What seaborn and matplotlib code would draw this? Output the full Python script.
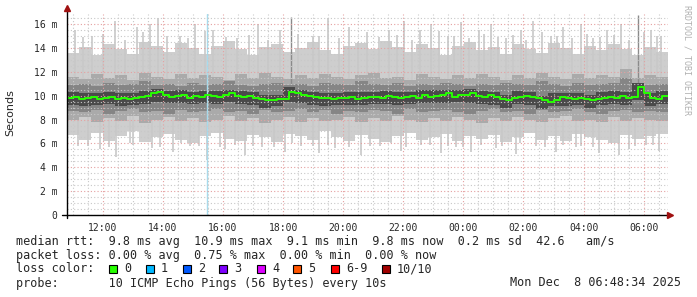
import numpy as np
import pandas as pd
import matplotlib
matplotlib.use("Agg")
import matplotlib.pyplot as plt
import seaborn as sns
from matplotlib.patches import Rectangle
from matplotlib.ticker import FixedLocator, MultipleLocator, FuncFormatter

# ---------------- data (ms, clock hours; >24 = next day) ----------------
t_start = 10.8094   # 10:48:34
t_end = 30.8094     # 06:48:34 next day

median_ms = [9.8, 9.9, 9.7, 9.8, 9.9, 9.7,
             9.8, 9.9, 9.7, 9.8, 9.7,
             9.8, 9.9, 10.0, 10.2, 10.3,
             10.1, 9.9, 10.0, 10.1, 9.8,
             10.0, 9.9, 10.1, 10.0, 9.9,
             10.1, 10.2, 10.0, 9.9, 10.0,
             9.8, 9.7, 9.6, 9.6, 9.7,
             9.7, 10.3, 10.2, 10.1, 10.0,
             9.9, 9.8, 9.8, 9.7, 9.8,
             9.8, 9.9, 9.7, 9.8, 9.9,
             9.9, 9.8, 10.0, 9.9, 9.8,
             9.9, 10.0, 9.8, 10.1, 9.9,
             10.0, 10.1, 10.2, 9.9, 10.1,
             10.1, 10.2, 10.0, 9.9, 10.1,
             9.9, 9.7, 9.6, 9.8, 9.9,
             10.0, 9.9, 9.8, 9.6, 9.5,
             9.6, 9.9, 9.8, 9.7, 9.8,
             9.7, 9.6, 9.7, 9.8, 9.9,
             9.8, 10.0, 9.8, 9.9, 10.7,
             10.2, 9.8, 9.7, 10.0]

outer_hi = [13.6, 14.1, 13.4, 14.3, 13.9, 13.5, 14.5, 14.2, 13.7, 14.4,
            14.0, 13.5, 14.2, 14.6, 13.9, 13.4, 14.1, 14.3, 13.7, 14.0,
            14.5, 13.8, 13.5, 14.2, 14.4, 13.9, 14.6, 14.1, 13.7, 14.3,
            14.0, 13.4, 14.2, 14.5, 13.8, 14.1, 13.5, 14.3, 13.9, 13.6,
            14.4, 14.0, 13.5, 14.2, 13.8, 14.3, 13.9, 13.4, 14.1, 13.7]
outer_lo = [6.7, 6.3, 6.9, 6.2, 6.6, 7.0, 6.1, 6.5, 6.8, 6.3,
            6.0, 6.6, 6.9, 6.4, 6.2, 6.7, 6.5, 6.1, 6.8, 6.6,
            6.3, 7.0, 6.5, 6.2, 6.7, 6.4, 6.1, 6.6, 6.9, 6.3,
            6.5, 6.8, 6.2, 6.6, 6.4, 6.7, 6.1, 6.5, 6.9, 6.3,
            6.6, 6.2, 6.8, 6.5, 6.3, 6.0, 6.7, 6.4, 6.6, 6.8]
mid_hi = [11.6, 11.4, 11.8, 11.5, 11.7, 11.3, 11.9, 11.6, 11.4, 11.8,
          11.5, 11.7, 11.6, 11.3, 11.8, 11.5, 11.9, 11.6, 11.4, 11.7,
          11.5, 11.8, 11.6, 11.4, 11.7, 11.9, 11.5, 11.6, 11.3, 11.8,
          11.6, 11.4, 11.7, 11.5, 11.8, 11.6, 11.3, 11.7, 11.5, 11.9,
          11.6, 11.4, 11.8, 11.5, 11.7, 11.6, 12.2, 11.5, 11.7, 11.6]
mid_lo = [8.0, 8.2, 7.8, 8.1, 7.9, 8.3, 7.7, 8.0, 8.2, 7.9,
          8.1, 7.8, 8.0, 8.3, 7.9, 8.1, 7.7, 8.0, 8.2, 7.8,
          8.1, 7.9, 8.0, 8.2, 7.8, 8.1, 7.9, 8.3, 8.0, 7.8,
          8.1, 7.9, 8.2, 8.0, 7.7, 8.1, 7.9, 8.2, 8.0, 7.8,
          8.1, 8.3, 7.9, 8.0, 7.8, 8.2, 7.9, 8.1, 8.0, 7.9]
inner_hi = [10.9, 11.0, 10.8, 11.1, 10.9, 11.0, 11.2, 10.9, 11.0, 10.8,
            11.1, 10.9, 11.0, 11.2, 10.9, 10.8, 11.0, 11.1, 10.9, 11.0,
            10.8, 11.1, 11.0, 10.9, 11.2, 11.0, 10.9, 11.1, 10.8, 11.0,
            10.9, 11.1, 11.0, 10.8, 11.0, 10.9, 11.1, 11.0, 10.9, 11.2,
            11.0, 10.8, 11.1, 10.9, 11.0, 11.1, 11.5, 11.0, 10.9, 11.0]
inner_lo = [8.7, 8.6, 8.8, 8.5, 8.7, 8.9, 8.6, 8.7, 8.5, 8.8,
            8.6, 8.7, 8.9, 8.6, 8.7, 8.5, 8.8, 8.6, 8.7, 8.9,
            8.6, 8.8, 8.5, 8.7, 8.6, 8.8, 8.7, 8.5, 8.9, 8.6,
            8.7, 8.8, 8.6, 8.5, 8.7, 8.9, 8.6, 8.7, 8.5, 8.8,
            8.6, 8.7, 8.9, 8.6, 8.5, 8.7, 8.8, 8.6, 8.7, 8.6]
core_hi = [10.3, 10.2, 10.2, 10.3, 10.2, 10.2, 10.4, 10.6, 10.4, 10.5,
           10.3, 10.4, 10.4, 10.5, 10.4, 10.3, 10.1, 10.1, 10.7, 10.5,
           10.3, 10.2, 10.2, 10.3, 10.3, 10.3, 10.4, 10.3, 10.3, 10.5,
           10.5, 10.5, 10.5, 10.6, 10.4, 10.3, 10.1, 10.4, 10.3, 10.0,
           10.2, 10.2, 10.2, 10.1, 10.3, 10.4, 10.3, 11.1, 10.2, 10.4]
core_lo = [9.2, 9.1, 9.2, 9.3, 9.1, 9.2, 9.3, 9.5, 9.4, 9.4,
           9.3, 9.4, 9.3, 9.5, 9.3, 9.2, 9.0, 9.1, 9.5, 9.4,
           9.2, 9.1, 9.2, 9.2, 9.2, 9.3, 9.3, 9.2, 9.3, 9.4,
           9.4, 9.4, 9.5, 9.4, 9.3, 9.2, 9.0, 9.3, 9.2, 8.9,
           9.1, 9.1, 9.2, 9.0, 9.2, 9.3, 9.2, 9.6, 9.1, 9.3]

spike_up_t = [11.08, 11.64, 12.41, 13.14, 13.58, 13.84, 14.58, 15.08, 15.68, 16.48,
              17.18, 17.91, 18.98, 19.48, 20.18, 20.48, 21.54, 22.01, 22.54, 22.91,
              23.48, 23.91, 24.51, 24.91, 25.41, 25.91, 26.31, 26.91, 27.31, 27.91,
              28.31, 28.78, 29.24, 30.24, 30.58,
              11.35, 12.00, 12.75, 13.35, 14.15, 14.85, 15.40, 16.10, 16.85, 17.50,
              18.50, 19.20, 19.85, 20.80, 21.20, 21.80, 22.30, 23.20, 23.70, 24.20,
              24.70, 25.15, 25.65, 26.10, 26.60, 27.10, 27.60, 28.10, 28.55, 29.00,
              29.50, 30.00, 30.45]
spike_up_top = [15.5, 15.0, 16.3, 15.8, 16.0, 16.5, 15.0, 16.0, 15.5, 14.8,
                16.0, 15.5, 15.0, 16.5, 15.8, 14.5, 15.5, 16.3, 15.5, 16.0,
                15.0, 16.2, 15.5, 16.0, 14.8, 15.5, 16.3, 15.0, 15.8, 16.0,
                14.8, 15.5, 16.0, 15.5, 15.0,
                14.9, 15.2, 14.7, 15.3, 15.0, 14.8, 15.4, 14.9, 15.1, 14.7,
                15.2, 15.0, 14.8, 15.3, 14.9, 15.1, 14.7, 15.4, 15.0, 14.8,
                15.2, 14.9, 15.1, 14.7, 15.3, 15.0, 14.8, 15.2, 14.9, 15.1,
                14.7, 15.3, 15.0]
spike_dn_t = [11.18, 11.91, 12.44, 12.91, 13.64, 14.34, 14.91, 15.48, 16.08, 16.74,
              17.31, 18.08, 18.58, 19.18, 19.74, 20.58, 21.24, 21.91, 22.58, 23.24,
              23.74, 24.24, 25.08, 25.74, 26.41, 27.08, 27.74, 28.51, 29.18, 29.51,
              30.08, 30.51,
              11.50, 12.20, 13.00, 13.90, 14.60, 15.20, 15.90, 16.40, 17.00, 17.70,
              18.30, 19.00, 19.50, 20.20, 20.90, 21.60, 22.10, 22.90, 23.50, 24.00,
              24.60, 25.30, 25.90, 26.70, 27.30, 27.90, 28.30, 28.90, 29.70, 30.30]
spike_dn_bot = [5.8, 5.5, 4.9, 6.0, 5.6, 5.3, 5.8, 4.6, 5.5, 5.0,
                5.7, 5.3, 5.8, 5.2, 5.6, 5.0, 5.8, 5.4, 5.9, 5.2,
                5.7, 5.3, 5.6, 5.1, 5.8, 5.3, 5.7, 5.2, 5.0, 5.5,
                5.9, 5.4,
                5.8, 5.7, 5.9, 5.7, 6.0, 5.8, 5.7, 5.9, 5.8, 5.7,
                6.0, 5.8, 5.9, 5.7, 5.8, 6.0, 5.7, 5.9, 5.8, 5.7,
                5.9, 5.8, 6.0, 5.7, 5.9, 5.8, 5.7, 6.0, 5.8, 5.9]
dark_spike_t = [18.28, 29.80]
dark_spike_top = [16.6, 16.8]
loss_rule_t = 15.48

x_tick_hours = [12, 14, 16, 18, 20, 22, 24, 26, 28, 30]
y_tick_ms = [0, 2, 4, 6, 8, 10, 12, 14, 16]

legend_lines = [
    "median rtt:  9.8 ms avg  10.9 ms max  9.1 ms min  9.8 ms now  0.2 ms sd  42.6   am/s",
    "packet loss: 0.00 % avg  0.75 % max  0.00 % min  0.00 % now",
]
loss_labels = ["0", "1", "2", "3", "4", "5", "6-9", "10/10"]
loss_colors = ["#26ff00", "#00b8ff", "#0059ff", "#7e00ff", "#dd00ff", "#ff5500", "#ff0000", "#a10000"]
probe_text = "probe:       10 ICMP Echo Pings (56 Bytes) every 10s"
date_text = "Mon Dec  8 06:48:34 2025"

# ---------------- figure ----------------
sns.set_style("white")
plt.rcParams["font.family"] = ["DejaVu Sans Mono", "DejaVu Sans"]

W, H = 697, 297
fig = plt.figure(figsize=(W / 100, H / 100), dpi=100)
fig.patch.set_facecolor("white")
L, R, T, B = 67, 668, 14, 215
ax = fig.add_axes([L / W, 1 - B / H, (R - L) / W, (B - T) / H])
ax.set_facecolor("white")
ymax = (B - T) / 11.93
ax.set_xlim(t_start, t_end)
ax.set_ylim(0, ymax)


def band(lo, hi, color, z):
    n = len(lo)
    edges = np.linspace(t_start, t_end, n + 1)
    ax.fill_between(edges, np.append(lo, lo[-1]), np.append(hi, hi[-1]),
                    step="post", color=color, lw=0, zorder=z)


band(outer_lo, outer_hi, "#cecece", 1.0)
ax.vlines(spike_up_t, 10, spike_up_top, color="#c8c8c8", lw=1.2, zorder=1.1)
ax.vlines(spike_dn_t, spike_dn_bot, 10, color="#c8c8c8", lw=1.2, zorder=1.1)
band(mid_lo, mid_hi, "#aaaaaa", 1.2)
ax.vlines(dark_spike_t, 10, dark_spike_top, color="#8a8a8a", lw=1.0, zorder=1.25)
band(inner_lo, inner_hi, "#858585", 1.3)
band(core_lo, core_hi, "#4a4a4a", 1.4)
ax.axvline(loss_rule_t, color="#a6dcef", lw=1.0, zorder=1.5)

med_edges = np.linspace(t_start, t_end, len(median_ms) + 1)
df = pd.DataFrame({"t": med_edges, "ms": np.append(median_ms, median_ms[-1])})
sns.lineplot(data=df, x="t", y="ms", drawstyle="steps-post", color="#26ff00",
             lw=1.4, ax=ax, zorder=3.1)
ax.set_xlabel("")
ax.set_ylabel("")

# grid
ax.xaxis.set_major_locator(FixedLocator(x_tick_hours))
ax.xaxis.set_minor_locator(MultipleLocator(0.5))
ax.yaxis.set_major_locator(FixedLocator(y_tick_ms))
ax.yaxis.set_minor_locator(MultipleLocator(0.5))
ax.set_axisbelow(False)
ax.grid(which="major", color="#e5a0a0", ls=(0, (1, 2)), lw=0.8, zorder=2.5)
ax.grid(which="minor", color="#c8c8c8", ls=(0, (1, 2)), lw=0.8, zorder=2.5)
ax.xaxis.set_major_formatter(FuncFormatter(lambda v, p: f"{int(round(v)) % 24:02d}:00"))
ax.yaxis.set_major_formatter(FuncFormatter(lambda v, p: "0" if v == 0 else f"{v:g} m"))
ax.tick_params(axis="both", which="major", labelsize=7, length=3, width=0.8,
               color="black", direction="out")
ax.tick_params(axis="x", which="major", pad=3)
ax.tick_params(axis="y", which="major", pad=4)
ax.tick_params(axis="both", which="minor", length=0)
for s in ax.spines.values():
    s.set_visible(False)

# axes lines with arrows
ax.plot([0, 0], [-0.015, 1.02], transform=ax.transAxes, color="black", lw=1.0,
        clip_on=False, zorder=4)
ax.plot([-0.008, 1.0], [0, 0], transform=ax.transAxes, color="black", lw=1.0,
        clip_on=False, zorder=4)
ax.plot([0], [1.03], marker="^", ms=5, color="#a01010", transform=ax.transAxes,
        clip_on=False, zorder=5)
ax.plot([1.004], [0], marker=">", ms=5, color="#a01010", transform=ax.transAxes,
        clip_on=False, zorder=5)

# texts
fig.text(10 / W, 1 - 113 / H, "Seconds", rotation=90, ha="center", va="center",
         fontsize=8, family=["DejaVu Sans"])
fig.text(687 / W, 1 - 5 / H, "RRDTOOL / TOBI OETIKER", rotation=270, ha="center",
         va="top", fontsize=6, color="#b0b0b0")

fs = 8.5
fig.text(16 / W, 1 - 241.5 / H, legend_lines[0], ha="left", va="center", fontsize=fs)
fig.text(16 / W, 1 - 255.5 / H, legend_lines[1], ha="left", va="center", fontsize=fs)
fig.text(16 / W, 1 - 269 / H, "loss color:", ha="left", va="center", fontsize=fs)
box_x = [109, 146, 183, 219, 257, 293, 331, 382]
for bx, lab, col in zip(box_x, loss_labels, loss_colors):
    fig.add_artist(Rectangle((bx / W, 1 - 273 / H), 8 / W, 8 / H,
                             transform=fig.transFigure, facecolor=col,
                             edgecolor="black", lw=0.8))
    fig.text((bx + 15) / W, 1 - 269 / H, lab, ha="left", va="center", fontsize=fs)
fig.text(16 / W, 1 - 283 / H, probe_text, ha="left", va="center", fontsize=fs)
fig.text(681 / W, 1 - 283 / H, date_text, ha="right", va="center", fontsize=fs)

fig.savefig("out.png", dpi=100, facecolor="white")
